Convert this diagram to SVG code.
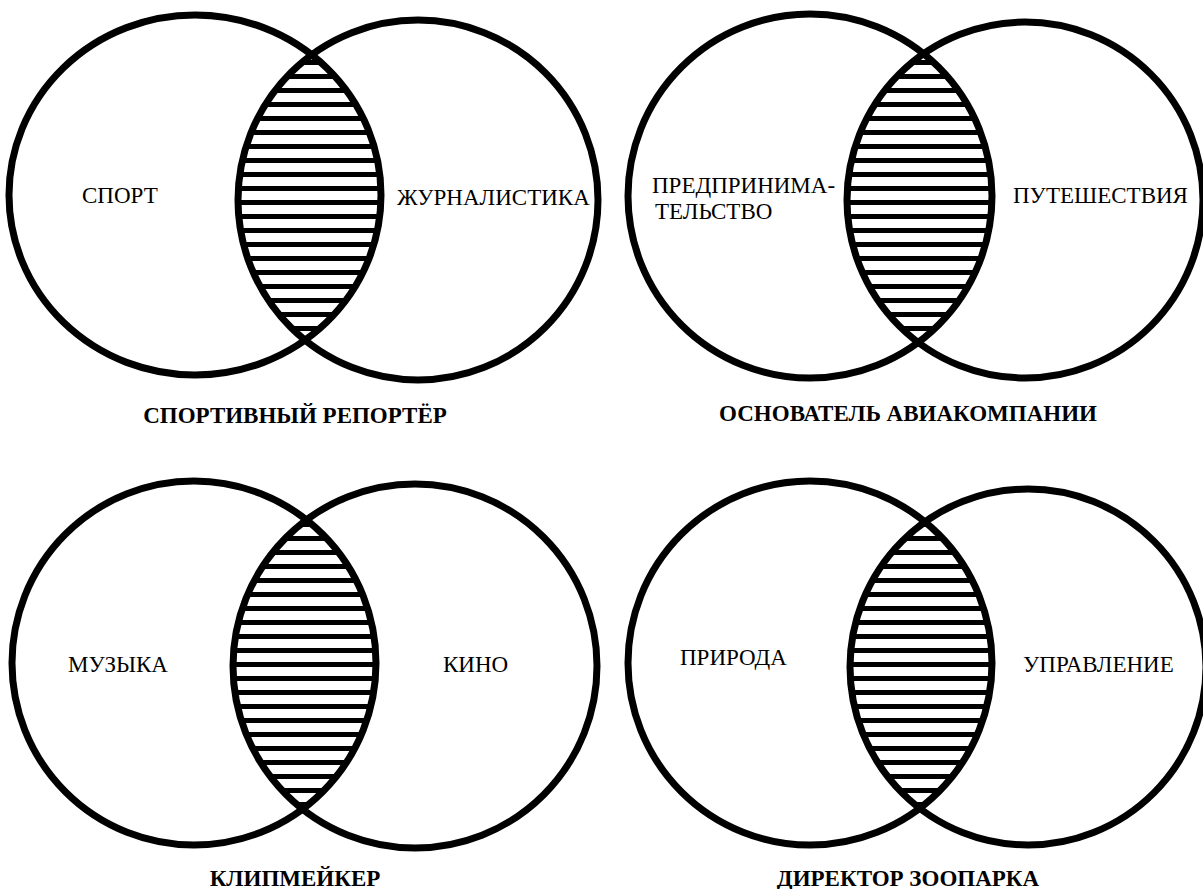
<svg xmlns="http://www.w3.org/2000/svg" width="1203" height="889" viewBox="0 0 1203 889">
<style>
.c{fill:none;stroke:#000;stroke-width:7}
.lbl{font-size:23px;fill:#000}
.ttl{font-size:23px;font-weight:bold;fill:#000}
</style>
<defs>
<pattern id="hatch" patternUnits="userSpaceOnUse" width="20" height="14">
<rect x="0" y="4" width="20" height="5" fill="#000"/>
</pattern>
<clipPath id="cTL"><ellipse cx="195" cy="195" rx="186" ry="180"/></clipPath>
<clipPath id="cTR"><circle cx="810" cy="196" r="182"/></clipPath>
<clipPath id="cBL"><circle cx="194" cy="663" r="182"/></clipPath>
<clipPath id="cBR"><circle cx="810" cy="663" r="182"/></clipPath>
</defs>
<rect width="1203" height="889" fill="#fff"/>

<g font-family="Liberation Serif, Times New Roman, serif">
<g id="d1">
<circle cx="418" cy="200" r="180" fill="url(#hatch)" clip-path="url(#cTL)"/>
<ellipse class="c" cx="195" cy="195" rx="186" ry="180"/>
<circle class="c" cx="418" cy="200" r="180"/>
<text class="lbl" x="82" y="203">СПОРТ</text>
<text class="lbl" x="397" y="205">ЖУРНАЛИСТИКА</text>
<text class="ttl" x="295" y="423" text-anchor="middle">СПОРТИВНЫЙ РЕПОРТЁР</text>
</g>

<g id="d2">
<circle cx="1025" cy="200" r="178" fill="url(#hatch)" clip-path="url(#cTR)"/>
<circle class="c" cx="810" cy="196" r="182"/>
<circle class="c" cx="1025" cy="200" r="178"/>
<text class="lbl" x="652" y="193">ПРЕДПРИНИМА-</text>
<text class="lbl" x="655" y="219">ТЕЛЬСТВО</text>
<text class="lbl" x="1013" y="203">ПУТЕШЕСТВИЯ</text>
<text class="ttl" x="908" y="421" text-anchor="middle">ОСНОВАТЕЛЬ АВИАКОМПАНИИ</text>
</g>

<g id="d3">
<circle cx="415" cy="666" r="182" fill="url(#hatch)" clip-path="url(#cBL)"/>
<circle class="c" cx="194" cy="663" r="182"/>
<circle class="c" cx="415" cy="666" r="182"/>
<text class="lbl" x="68" y="672">МУЗЫКА</text>
<text class="lbl" x="443" y="672">КИНО</text>
<text class="ttl" x="295" y="886" text-anchor="middle">КЛИПМЕЙКЕР</text>
</g>

<g id="d4">
<circle cx="1028" cy="667" r="178" fill="url(#hatch)" clip-path="url(#cBR)"/>
<circle class="c" cx="810" cy="663" r="182"/>
<circle class="c" cx="1028" cy="667" r="178"/>
<text class="lbl" x="680" y="665">ПРИРОДА</text>
<text class="lbl" x="1023" y="672">УПРАВЛЕНИЕ</text>
<text class="ttl" x="908" y="886" text-anchor="middle">ДИРЕКТОР ЗООПАРКА</text>
</g>
</g>

<g id="connectors"></g>
</svg>
